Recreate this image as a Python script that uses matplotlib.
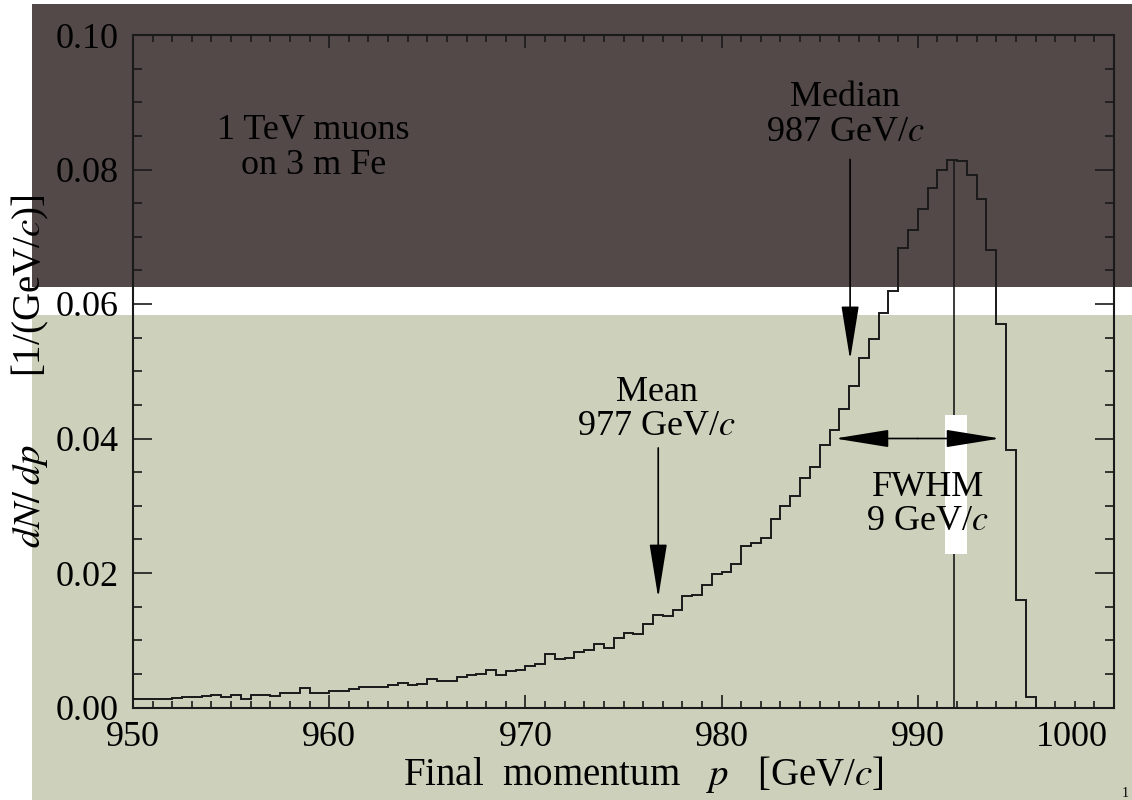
import numpy as np
import matplotlib
matplotlib.use('Agg')
import matplotlib.pyplot as plt
from matplotlib.patches import Rectangle
from matplotlib.ticker import MultipleLocator
from matplotlib.transforms import ScaledTranslation

plt.rcParams['font.family'] = ['Liberation Serif', 'DejaVu Serif']
plt.rcParams['mathtext.fontset'] = 'stix'

# histogram: 0.5 GeV bins from 950 to 1000 GeV/c
p_lo, p_hi, bin_w = 950.0, 1000.0, 0.5
dndp = [
    0.0013, 0.0013, 0.0013, 0.0012, 0.0014, 0.0015, 0.0015, 0.0017, 0.0018, 0.0015,
    0.0018, 0.0013, 0.0019, 0.0019, 0.0017, 0.0021, 0.0022, 0.0029, 0.0022, 0.0022,
    0.0025, 0.0024, 0.0027, 0.0030, 0.0030, 0.0031, 0.0034, 0.0037, 0.0033, 0.0035,
    0.0042, 0.0039, 0.0040, 0.0046, 0.0049, 0.0050, 0.0056, 0.0049, 0.0055, 0.0056,
    0.0061, 0.0065, 0.0079, 0.0072, 0.0074, 0.0082, 0.0085, 0.0095, 0.0089, 0.0104,
    0.0111, 0.0109, 0.0124, 0.0138, 0.0136, 0.0145, 0.0166, 0.0167, 0.0182, 0.0199,
    0.0202, 0.0213, 0.0240, 0.0244, 0.0252, 0.0280, 0.0299, 0.0315, 0.0341, 0.0358,
    0.0391, 0.0412, 0.0444, 0.0478, 0.0520, 0.0548, 0.0586, 0.0619, 0.0683, 0.0710,
    0.0742, 0.0772, 0.0799, 0.0814, 0.0813, 0.0792, 0.0756, 0.0680, 0.0570, 0.0383,
    0.0160, 0.0016, 0.0, 0.0, 0.0, 0.0, 0.0, 0.0, 0.0, 0.0,
]

peak_p, peak_val = 991.85, 0.0814
median_p, median_y = 986.55, (0.0815, 0.0517)
mean_p, mean_y = 976.77, (0.0386, 0.0163)
fwhm_lo, fwhm_hi, fwhm_y = 985.78, 994.19, 0.0400

xticks = [950, 960, 970, 980, 990, 1000]
yticks = [0.00, 0.02, 0.04, 0.06, 0.08, 0.10]

edges = np.linspace(p_lo, p_hi, len(dndp) + 1)

fig = plt.figure(figsize=(11.32, 8.0), dpi=100)
# page background bands
fig.add_artist(Rectangle((32/1132, 1 - 287/800), 1100/1132, 283/800,
                         transform=fig.transFigure, color='#524948', zorder=-2, lw=0))
fig.add_artist(Rectangle((32/1132, 0), 1100/1132, 485/800,
                         transform=fig.transFigure, color='#cdd1bb', zorder=-2, lw=0))

ax = fig.add_axes([133/1132, 1 - 707.5/800, 981/1132, 672.5/800])
ax.patch.set_alpha(0)

ax.stairs(dndp, edges, color='#1a1a1a', lw=1.4, zorder=2)
ax.vlines(peak_p, 0, peak_val, color='#1a1a1a', lw=1.2, zorder=2)

# white strip over the FWHM label
ax.add_patch(Rectangle((945/1132, 1 - 554/800), 22/1132, 139/800,
                       transform=fig.transFigure, color='white', lw=0,
                       zorder=2.5, clip_on=False))

head = dict(arrowstyle='-|>,head_length=34,head_width=5.5', mutation_scale=1,
            color='black', lw=1.2, shrinkA=0, shrinkB=0)
ax.annotate('', xy=(median_p, median_y[1]), xytext=(median_p, median_y[0]),
            arrowprops=head, zorder=3)
ax.annotate('', xy=(mean_p, mean_y[1]), xytext=(mean_p, mean_y[0]),
            arrowprops=head, zorder=3)
fwhm_mid = (fwhm_lo + fwhm_hi) / 2
ax.annotate('', xy=(fwhm_lo, fwhm_y), xytext=(fwhm_mid, fwhm_y),
            arrowprops=head, zorder=3)
ax.annotate('', xy=(fwhm_hi, fwhm_y), xytext=(fwhm_mid, fwhm_y),
            arrowprops=head, zorder=3)

fs = 26
ax.text(959.2, 0.0832, '1 TeV muons\non 3 m Fe', ha='center', va='center',
        fontsize=fs, linespacing=1.05, zorder=3)
ax.text(986.3, 0.0881, 'Median\n987 GeV/$c$', ha='center', va='center',
        fontsize=fs, linespacing=1.05, zorder=3)
ax.text(976.7, 0.0443, 'Mean\n977 GeV/$c$', ha='center', va='center',
        fontsize=fs, linespacing=1.05, zorder=3)
ax.text(990.5, 0.0302, 'FWHM\n9 GeV/$c$', ha='center', va='center',
        fontsize=fs, linespacing=1.05, zorder=3)

ax.set_xlim(p_lo, p_hi)
ax.set_ylim(0, 0.10)
ax.set_xticks(xticks)
ax.set_yticks(yticks)
ax.set_yticklabels(['%.2f' % v for v in yticks])
ax.xaxis.set_minor_locator(MultipleLocator(1))
ax.yaxis.set_minor_locator(MultipleLocator(0.005))
ax.tick_params(axis='both', which='both', direction='in', top=True, right=True,
               colors='#1a1a1a', labelcolor='black', labelsize=26)
ax.tick_params(axis='x', which='major', length=9.5, width=1.2, pad=10)
ax.tick_params(axis='x', which='minor', length=5, width=1.2)
ax.tick_params(axis='y', which='major', length=13.5, width=1.2, pad=10)
ax.tick_params(axis='y', which='minor', length=6.5, width=1.2)
for s in ax.spines.values():
    s.set_linewidth(1.5)
    s.set_color('#1a1a1a')

lbl = ax.get_xticklabels()[-1]
lbl.set_transform(lbl.get_transform() + ScaledTranslation(-0.42, 0, fig.dpi_scale_trans))

ax.set_xlabel('Final  momentum   $p$   [GeV/$c$]', fontsize=28, va='center')
ax.xaxis.set_label_coords(0.52, -0.1)
ax.set_ylabel('$dN/\\;dp$       [1/(GeV/$c$)]', fontsize=28, va='center')
ax.yaxis.set_label_coords(-0.105, 0.5)

fig.text(1125/1132, 0.0, '1', fontsize=10, ha='center', va='bottom')

fig.savefig('out.png', dpi=100)
